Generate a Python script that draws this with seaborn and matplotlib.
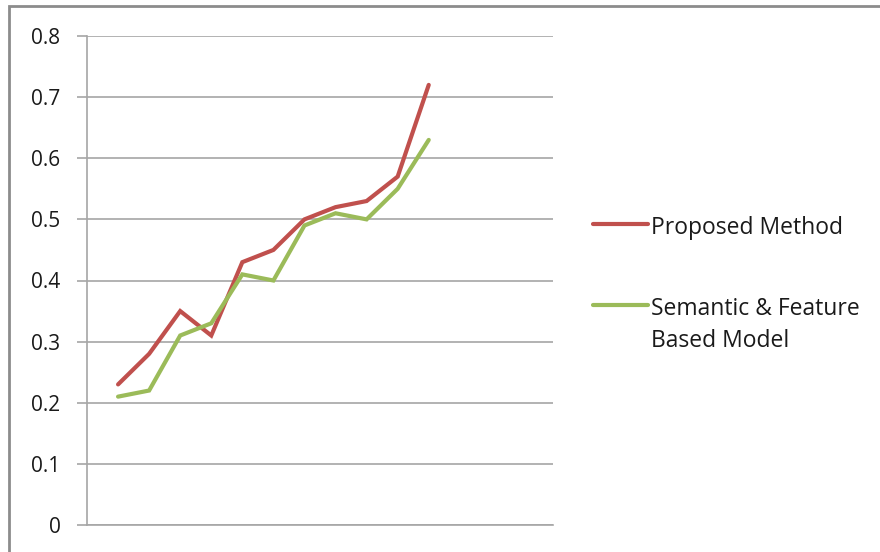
import matplotlib
matplotlib.use("Agg")
import matplotlib.pyplot as plt
from matplotlib.patches import Rectangle
from matplotlib.lines import Line2D
import seaborn as sns
import pandas as pd

# Scores per test case for the two approaches
positions = list(range(1, 12))
proposed = [0.23, 0.28, 0.35, 0.31, 0.43, 0.45, 0.50, 0.52, 0.53, 0.57, 0.72]
semantic = [0.21, 0.22, 0.31, 0.33, 0.41, 0.40, 0.49, 0.51, 0.50, 0.55, 0.63]
series_names = ["Proposed Method", "Semantic & Feature\nBased Model"]
y_ticks = [0, 0.1, 0.2, 0.3, 0.4, 0.5, 0.6, 0.7, 0.8]
y_tick_labels = ["0", "0.1", "0.2", "0.3", "0.4", "0.5", "0.6", "0.7", "0.8"]

df = pd.DataFrame({
    "x": positions * 2,
    "score": proposed + semantic,
    "series": [series_names[0]] * len(proposed) + [series_names[1]] * len(semantic),
})

sns.set_theme(style="white")
plt.rcParams["font.family"] = ["Open Sans", "DejaVu Sans"]

W, H = 880, 552
fig = plt.figure(figsize=(W / 100, H / 100), dpi=100)
ax = fig.add_axes([87 / W, (H - 525) / H, (553 - 87) / W, (525 - 36) / H])

colors = {series_names[0]: "#C0504D", series_names[1]: "#9BBB59"}
sns.lineplot(
    data=df, x="x", y="score", hue="series", ax=ax,
    palette=colors, linewidth=3.0, legend=False,
)
for ln in ax.lines:
    ln.set_solid_capstyle("round")
    ln.set_solid_joinstyle("miter")

ax.set_xlim(0, 15)
ax.set_ylim(0, 0.8)
ax.set_yticks(y_ticks)
ax.set_yticklabels(y_tick_labels)
ax.set_xticks([])
ax.set_xlabel("")
ax.set_ylabel("")
ax.yaxis.grid(True, color="#a6a6a6", linewidth=1.2)
ax.set_axisbelow(True)
for side in ["top", "right"]:
    ax.spines[side].set_visible(False)
for side in ["left", "bottom"]:
    ax.spines[side].set_color("#a6a6a6")
    ax.spines[side].set_linewidth(1.2)
ax.tick_params(axis="y", left=True, length=7, width=1.2, color="#a6a6a6",
               labelsize=15, labelcolor="#1a1a1a", pad=12)

# One legend per series so each key line sits beside the first text line
anchors = [1 - 216 / H, 1 - 297 / H]
for name, top in zip(series_names, anchors):
    handle = Line2D([], [], color=colors[name], lw=3.0, solid_capstyle="round")
    leg = fig.legend([handle], [name], loc="upper left",
                     bbox_to_anchor=(593 / W, top), frameon=False,
                     fontsize=16.5, handlelength=2.4, handletextpad=0.12,
                     labelcolor="#1a1a1a", borderaxespad=0, borderpad=0)
    for txt in leg.get_texts():
        txt.set_linespacing(1.45)
    for column in leg._legend_handle_box.get_children():
        for row in column.get_children():
            row.align = "top"

# Chart area border
fig.patches.append(Rectangle((9 / W, -0.05), 1.1, 1 - 6 / H + 0.05,
                             transform=fig.transFigure, fill=False,
                             edgecolor="#8c8c8c", linewidth=2))

fig.savefig("out.png", dpi=100)
